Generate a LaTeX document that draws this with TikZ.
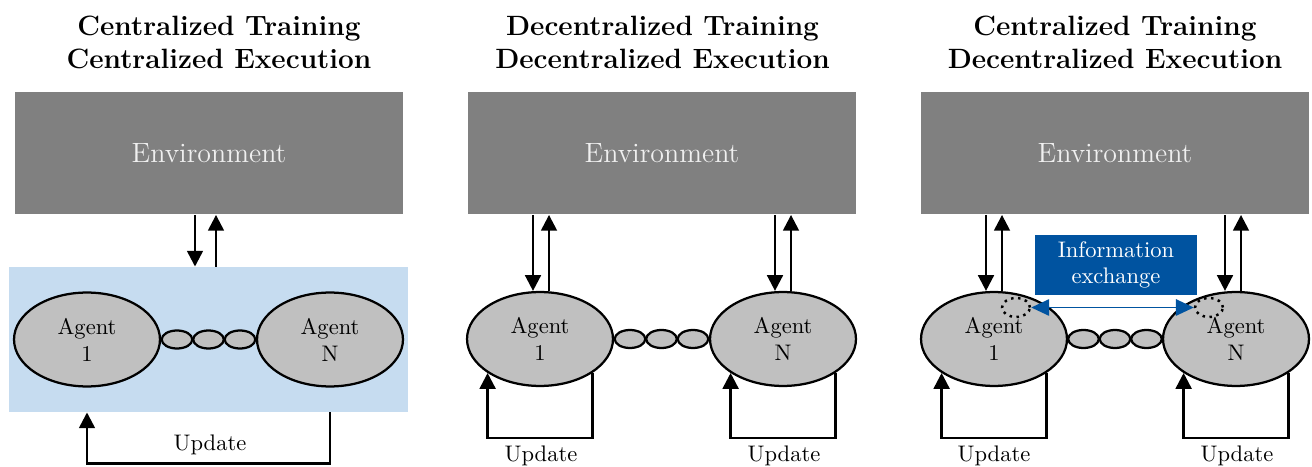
\documentclass[tikz,border=0pt]{standalone}
\usepackage{fontspec}
\usetikzlibrary{shapes.geometric,arrows.meta,calc}

\definecolor{envgray}{HTML}{808080}
\definecolor{envtext}{HTML}{F0F0F0}
\definecolor{agentgray}{HTML}{C0C0C0}
\definecolor{teamblue}{HTML}{C6DCF0}
\definecolor{infoblue}{HTML}{0053A0}

% one drawing unit = one pixel of the layout grid
\newcommand\pxlen{0.444pt}

\begin{document}
\begin{tikzpicture}[x=0.444pt,y=-0.444pt,
  paneltitle/.style={inner sep=0pt, align=center,
    font=\fontsize{12.4}{14.65}\selectfont\bfseries},
  envbox/.style={rectangle, fill=envgray, text=envtext, inner sep=0pt,
    minimum width=172.3pt, minimum height=54.6pt,
    font=\fontsize{12.4}{15}\selectfont},
  teambox/.style={rectangle, fill=teamblue, inner sep=0pt,
    minimum width=177.2pt, minimum height=64.4pt},
  agent/.style={ellipse, draw, line width=1pt, fill=agentgray,
    minimum width=64.8pt, minimum height=41.7pt, inner sep=0pt,
    align=center, font=\fontsize{10}{12}\selectfont},
  linkdot/.style={ellipse, draw, line width=1pt, fill=agentgray,
    minimum width=13.6pt, minimum height=8pt, inner sep=0pt},
  probe/.style={ellipse, draw, line width=1.1pt, dotted,
    minimum width=12.4pt, minimum height=8.4pt, inner sep=0pt},
  infobox/.style={rectangle, fill=infoblue, text=white, inner sep=0pt,
    minimum width=71.9pt, minimum height=26.6pt, align=center,
    font=\fontsize{10}{11.5}\selectfont},
  lbl/.style={inner sep=0pt, font=\fontsize{10}{12}\selectfont},
  flow/.style={line width=1.1pt, -{Triangle[length=7pt,width=7pt]}},
  xflow/.style={line width=0.8pt, draw=infoblue,
    {Triangle[length=8pt,width=7.3pt]}-{Triangle[length=8pt,width=7.3pt]}}
]
\fill[white] (0,0) rectangle (1312,467);
\useasboundingbox (0,0) rectangle (1312,467);

% ---------------- titles ----------------
\node[paneltitle] (t1) at (219,42) {Centralized Training\\Centralized Execution};
\node[paneltitle] (t2) at (662.5,42) {Decentralized Training\\Decentralized Execution};
\node[paneltitle] (t3) at (1115,42) {Centralized Training\\Decentralized Execution};

% ---------------- panel 1: CTCE ----------------
\node[envbox] (env1) at (209,153) {Environment};
\node[teambox] (team) at (208.5,339.5) {};
\node[agent] (a11) at (87,339.5) {Agent\\1};
\node[agent] (a1N) at (330,339.5) {Agent\\N};
\node[linkdot] (d11) at (177,339.5) {};
\node[linkdot] (d12) at (208.5,339.5) {};
\node[linkdot] (d13) at (240,339.5) {};

\coordinate (c1dn) at ([xshift=-13.5*\pxlen]team.north);
\coordinate (c1up) at ([xshift=7.5*\pxlen]team.north);
\draw[flow] (c1dn |- env1.south) -- (c1dn);
\draw[flow] (c1up) -- (c1up |- env1.south);

\draw[flow] (team.south -| a1N) -- ++(0,51) -| (team.south -| a11);
\node[lbl, anchor=base] (upd1) at (210,450) {Update};

% ---------------- panel 2: DTDE ----------------
\node[envbox] (env2) at (662,153) {Environment};
\node[agent] (a21) at (540,339) {Agent\\1};
\node[agent] (a2N) at (783,339) {Agent\\N};
\node[linkdot] (d21) at (630,339) {};
\node[linkdot] (d22) at (661.5,339) {};
\node[linkdot] (d23) at (693,339) {};

\coordinate (c21dn) at ([xshift=-7*\pxlen]a21.north);
\coordinate (c21up) at ([xshift=9*\pxlen]a21.north);
\coordinate (c2Ndn) at ([xshift=-8*\pxlen]a2N.north);
\coordinate (c2Nup) at ([xshift=8*\pxlen]a2N.north);
\draw[flow] (c21dn |- env2.south) -- (c21dn);
\draw[flow] (c21up) -- (c21up |- env2.south);
\draw[flow] (c2Ndn |- env2.south) -- (c2Ndn);
\draw[flow] (c2Nup) -- (c2Nup |- env2.south);

\draw[flow] (a21.south east) -- ++(0,65) -| (a21.south west);
\draw[flow] (a2N.south east) -- ++(0,65) -| (a2N.south west);
\node[lbl, anchor=base] (upd21) at (541,462) {Update};
\node[lbl, anchor=base] (upd2N) at (784,462) {Update};

% ---------------- panel 3: CTDE ----------------
\node[envbox] (env3) at (1115,153) {Environment};
\node[agent] (a31) at (994,339) {Agent\\1};
\node[agent] (a3N) at (1236,339) {Agent\\N};
\node[linkdot] (d31) at (1083.5,339) {};
\node[linkdot] (d32) at (1115,339) {};
\node[linkdot] (d33) at (1146.5,339) {};

\coordinate (c31dn) at ([xshift=-8*\pxlen]a31.north);
\coordinate (c31up) at ([xshift=8*\pxlen]a31.north);
\coordinate (c3Ndn) at ([xshift=-11*\pxlen]a3N.north);
\coordinate (c3Nup) at ([xshift=5*\pxlen]a3N.north);
\draw[flow] (c31dn |- env3.south) -- (c31dn);
\draw[flow] (c31up) -- (c31up |- env3.south);
\draw[flow] (c3Ndn |- env3.south) -- (c3Ndn);
\draw[flow] (c3Nup) -- (c3Nup |- env3.south);

\draw[flow] (a31.south east) -- ++(0,65) -| (a31.south west);
\draw[flow] (a3N.south east) -- ++(0,65) -| (a3N.south west);
\node[lbl, anchor=base] (upd31) at (994,462) {Update};
\node[lbl, anchor=base] (upd3N) at (1237,462) {Update};

% information exchange between the agents
\node[infobox] (info) at (1116,265) {Information\\exchange};
\node[probe] (p31) at (1016,307.5) {};
\node[probe] (p3N) at (1209,307.5) {};
\draw[xflow] (p31.east) -- (p3N.west);
\end{tikzpicture}
\end{document}
